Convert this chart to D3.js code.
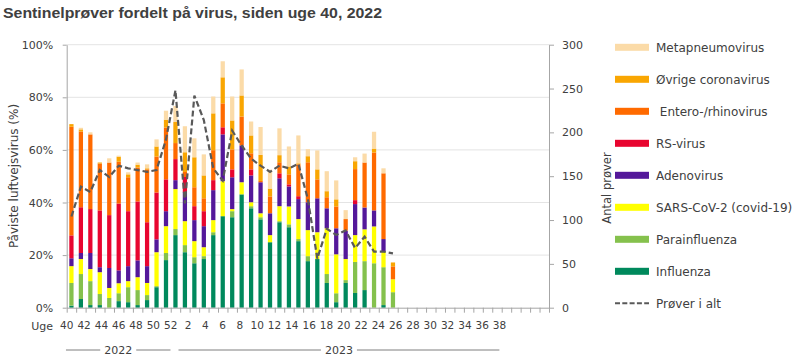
<!DOCTYPE html>
<html>
<head>
<meta charset="utf-8">
<script src="https://cdn.jsdelivr.net/npm/d3@7"></script>
<style>
body { margin: 0; background: #fff; }
svg text { font-family: "DejaVu Sans", sans-serif; fill: #404040; }
</style>
</head>
<body>
<svg id="chart" width="800" height="361"></svg>
<script>
// uger fra uge 40 2022 til uge 38 2023
const weeks = ["40","41","42","43","44","45","46","47","48","49","50","51","52",
  "1","2","3","4","5","6","7","8","9","10","11","12","13","14","15","16","17","18","19","20",
  "21","22","23","24","25","26","27","28","29","30","31","32","33","34","35","36","37","38"];

// andel positive prøver (%) pr virus, uge 40 - uge 22
const influenza   = [0.8,3.3,1.0,1.0,0,2.5,2.1,1.0,2.9,7.8,18.1,27.6,21.1,16.9,18.5,27.6,34.8,34.4,43.1,37.8,33.6,24.9,32.5,30.6,25.3,17.7,18.5,9.4,2.1,9.4,5.6,6.7,0,1.0,0];
const parainfl    = [8.6,9.5,9.1,4.2,3.7,3.0,5.7,5.7,1.9,0.4,2.7,2.3,2.7,2.3,1.1,1.1,0,2.3,0,0.8,0.8,0,0.4,1.1,0.8,1.9,0,3.4,3.4,1.1,11.8,11.0,16.9,14.4,5.9];
const sarscov2    = [6.4,5.7,4.6,8.3,3.8,3.8,2.3,4.9,4.6,12.9,10.2,15.2,9.1,6.1,3.4,4.6,13.3,0.8,4.6,1.5,1.5,2.7,5.7,6.8,7.6,9.9,10.2,17.4,14.8,8.0,10.2,12.1,14.0,6.1,4.9];
const adenovirus  = [3.0,2.3,6.1,1.9,7.6,4.9,5.7,6.4,6.4,4.9,5.7,3.4,11.1,8.0,8.0,11.4,17.8,12.1,14.0,10.2,11.8,8.3,10.6,7.6,7.6,10.6,12.9,7.6,9.9,10.8,11.8,8.3,6.1,4.6,0];
const rsvirus     = [8.7,17.4,16.7,21.6,20.1,25.4,20.9,22.4,16.7,17.8,12.1,8.0,5.7,5.3,5.7,3.8,2.7,3.0,0,2.3,0,0,1.9,0.8,1.1,0,0,0,0,0,1.5,0,0,0,0];
const enterorhino = [41.3,28.8,28.4,17.8,20.0,15.9,12.9,12.9,20.1,13.7,19.7,6.1,1.9,7.2,4.9,11.4,9.1,7.6,11.0,6.1,0.5,6.4,4.2,3.8,12.1,15.2,7.2,4.2,8.3,4.4,11.8,17.1,22.0,25.0,4.9];
const oevrigeCorona = [1.0,0.8,0,0.4,0,1.9,1.1,1.1,0.4,3.8,3.0,8.0,7.5,11.4,8.7,14.0,9.9,11.0,8.0,6.8,9.9,3.0,2.7,3.0,0.4,2.3,3.8,2.3,2.7,0,3.0,0,1.5,0,1.5];
const metapneumo  = [0,0.6,0.8,0,1.6,0.4,0.8,0.8,1.5,2.7,3.4,6.1,9.9,7.2,8.0,6.4,6.1,9.1,9.9,5.3,10.6,7.2,10.2,7.6,10.6,2.7,7.2,7.6,7.2,3.4,1.5,3.4,6.4,1.9,0];

// antal prøver i alt
const proeverIAlt = [104,138,132,157,149,162,159,157,155,157,192,248,119,242,214,159,145,202,185,170,162,155,162,159,164,124,56,90,83,88,68,81,64,64,62];

const keys = ["Influenza","Parainfluenza","SARS-CoV-2 (covid-19)","Adenovirus","RS-virus"," Entero-/rhinovirus","Øvrige coronavirus","Metapneumovirus"];
const colors = ["#00895c","#85c14d","#ffff00","#54189a","#e8052f","#ff6a00","#f9a602","#fbdba8"];
const seriesValues = [influenza,parainfl,sarscov2,adenovirus,rsvirus,enterorhino,oevrigeCorona,metapneumo];

const rows = proeverIAlt.map((n, i) => {
    const r = {week: weeks[i], total: n};
    keys.forEach((k, j) => r[k] = seriesValues[j][i]);
    return r;
});

const svg = d3.select("#chart");
const plotLeft = 66.7, plotRight = 549, plotTop = 44.7, plotBottom = 307.7;

const x = d3.scaleBand().domain(weeks).range([plotLeft, plotRight]).paddingInner(0.55).paddingOuter(0.275);
const y = d3.scaleLinear().domain([0, 100]).range([plotBottom, plotTop]);
const y2 = d3.scaleLinear().domain([0, 300]).range([plotBottom, plotTop]);
const color = d3.scaleOrdinal().domain(keys).range(colors);

// title
svg.append("text")
    .attr("x", 3).attr("y", 18)
    .attr("textLength", 379).attr("lengthAdjust", "spacingAndGlyphs")
    .style("font-family", "'Liberation Sans', Arial, sans-serif")
    .style("font-size", "15px").style("font-weight", "bold")
    .text("Sentinelprøver fordelt på virus, siden uge 40, 2022");

// gridlines
svg.append("g").selectAll("line")
    .data([20, 40, 60, 80, 100])
    .enter().append("line")
    .attr("x1", plotLeft).attr("x2", plotRight)
    .attr("y1", d => y(d)).attr("y2", d => y(d))
    .attr("stroke", "#e4e4e4");

// bars
const stacked = d3.stack().keys(keys)(rows);
svg.append("g").selectAll("g")
    .data(stacked)
    .enter().append("g")
    .attr("fill", d => color(d.key))
    .selectAll("rect")
    .data(d => d.filter(p => p[1] - p[0] > 0))
    .enter().append("rect")
    .attr("x", d => x(d.data.week))
    .attr("width", x.bandwidth())
    .attr("y", d => y(d[1]))
    .attr("height", d => y(d[0]) - y(d[1]));

// line - prøver i alt
const line = d3.line()
    .x(d => x(d.week) + x.bandwidth() / 2)
    .y(d => y2(d.total));
svg.append("path")
    .datum(rows)
    .attr("fill", "none")
    .attr("stroke", "#595959")
    .attr("stroke-width", 2.2)
    .attr("stroke-dasharray", "6,3")
    .attr("d", line);

// axes
const axisColor = "#a6a6a6";
const yAxis = svg.append("g")
    .attr("transform", `translate(${plotLeft},0)`)
    .call(d3.axisLeft(y).tickValues(d3.range(0, 101, 20)).tickSize(4).tickSizeOuter(0).tickPadding(9.5).tickFormat(d => d + "%"));
const y2Axis = svg.append("g")
    .attr("transform", `translate(${plotRight},0)`)
    .call(d3.axisRight(y2).tickValues(d3.range(0, 301, 50)).tickSize(5).tickSizeOuter(0).tickPadding(8));

const xb = d3.scaleLinear().domain([0, weeks.length]).range([plotLeft, plotRight]);
const xAxis = svg.append("g")
    .attr("transform", `translate(0,${plotBottom})`)
    .call(d3.axisBottom(xb).tickValues(d3.range(weeks.length + 1)).tickSize(5).tickSizeOuter(0).tickFormat(""));

[yAxis, y2Axis, xAxis].forEach(g => {
    g.select(".domain").attr("stroke", axisColor);
    g.selectAll(".tick line").attr("stroke", axisColor);
    g.selectAll("text").style("font-size", "11px").attr("fill", "#404040").style("font-family", "DejaVu Sans");
});

// week labels
const xl = d3.scalePoint().domain(weeks).range([66.3, 66.3 + 8.655 * (weeks.length - 1)]);
const labelAxis = svg.append("g")
    .attr("transform", `translate(0,${plotBottom})`)
    .call(d3.axisBottom(xl).tickValues(weeks.filter((d, i) => i % 2 === 0)).tickSize(0).tickPadding(14));
labelAxis.select(".domain").remove();
labelAxis.selectAll("text").style("font-size", "10.5px").attr("fill", "#404040").style("font-family", "DejaVu Sans");

svg.append("text")
    .attr("x", 53).attr("y", 330)
    .attr("text-anchor", "end")
    .style("font-size", "11px")
    .text("Uge");

// years
const half = xl.step() / 2;
const years = [
    {label: "2022", from: weeks[0], to: "52"},
    {label: "2023", from: "1", to: weeks[weeks.length - 1]}
];
years.forEach(yr => {
    const x0 = xl(yr.from) - half + 4, x1 = xl(yr.to) + half - 4;
    const cx = (x0 + x1) / 2;
    const g = svg.append("g");
    g.append("line").attr("x1", x0).attr("x2", cx - 18).attr("y1", 350).attr("y2", 350).attr("stroke", "#7f7f7f");
    g.append("line").attr("x1", cx + 18).attr("x2", x1).attr("y1", 350).attr("y2", 350).attr("stroke", "#7f7f7f");
    g.append("text").attr("x", cx).attr("y", 354).attr("text-anchor", "middle").style("font-size", "11px").text(yr.label);
});

// axis titles
svg.append("text")
    .attr("transform", "translate(18,176) rotate(-90)")
    .attr("text-anchor", "middle")
    .style("font-size", "12px").attr("fill", "#333")
    .text("Påviste luftvejsvirus (%)");
svg.append("text")
    .attr("transform", "translate(611,188) rotate(-90)")
    .attr("text-anchor", "middle")
    .style("font-size", "11.5px").attr("fill", "#333")
    .text("Antal prøver");

// legend
const legendItems = keys.slice().reverse();
const legend = svg.append("g");
legendItems.forEach((k, i) => {
    const cy = 47.3 + i * 32;
    legend.append("rect").attr("x", 615).attr("y", cy - 3.5).attr("width", 34).attr("height", 7).attr("fill", color(k));
    legend.append("text").attr("x", 656).attr("y", cy).attr("dy", "0.35em")
        .style("font-size", "12px").style("white-space", "pre").text(k);
});
const ly = 47.3 + legendItems.length * 32;
legend.append("line").attr("x1", 615).attr("x2", 649).attr("y1", ly).attr("y2", ly)
    .attr("stroke", "#595959").attr("stroke-width", 2).attr("stroke-dasharray", "5,2.3");
legend.append("text").attr("x", 656).attr("y", ly).attr("dy", "0.35em")
    .style("font-size", "12px").text("Prøver i alt");
</script>
</body>
</html>
